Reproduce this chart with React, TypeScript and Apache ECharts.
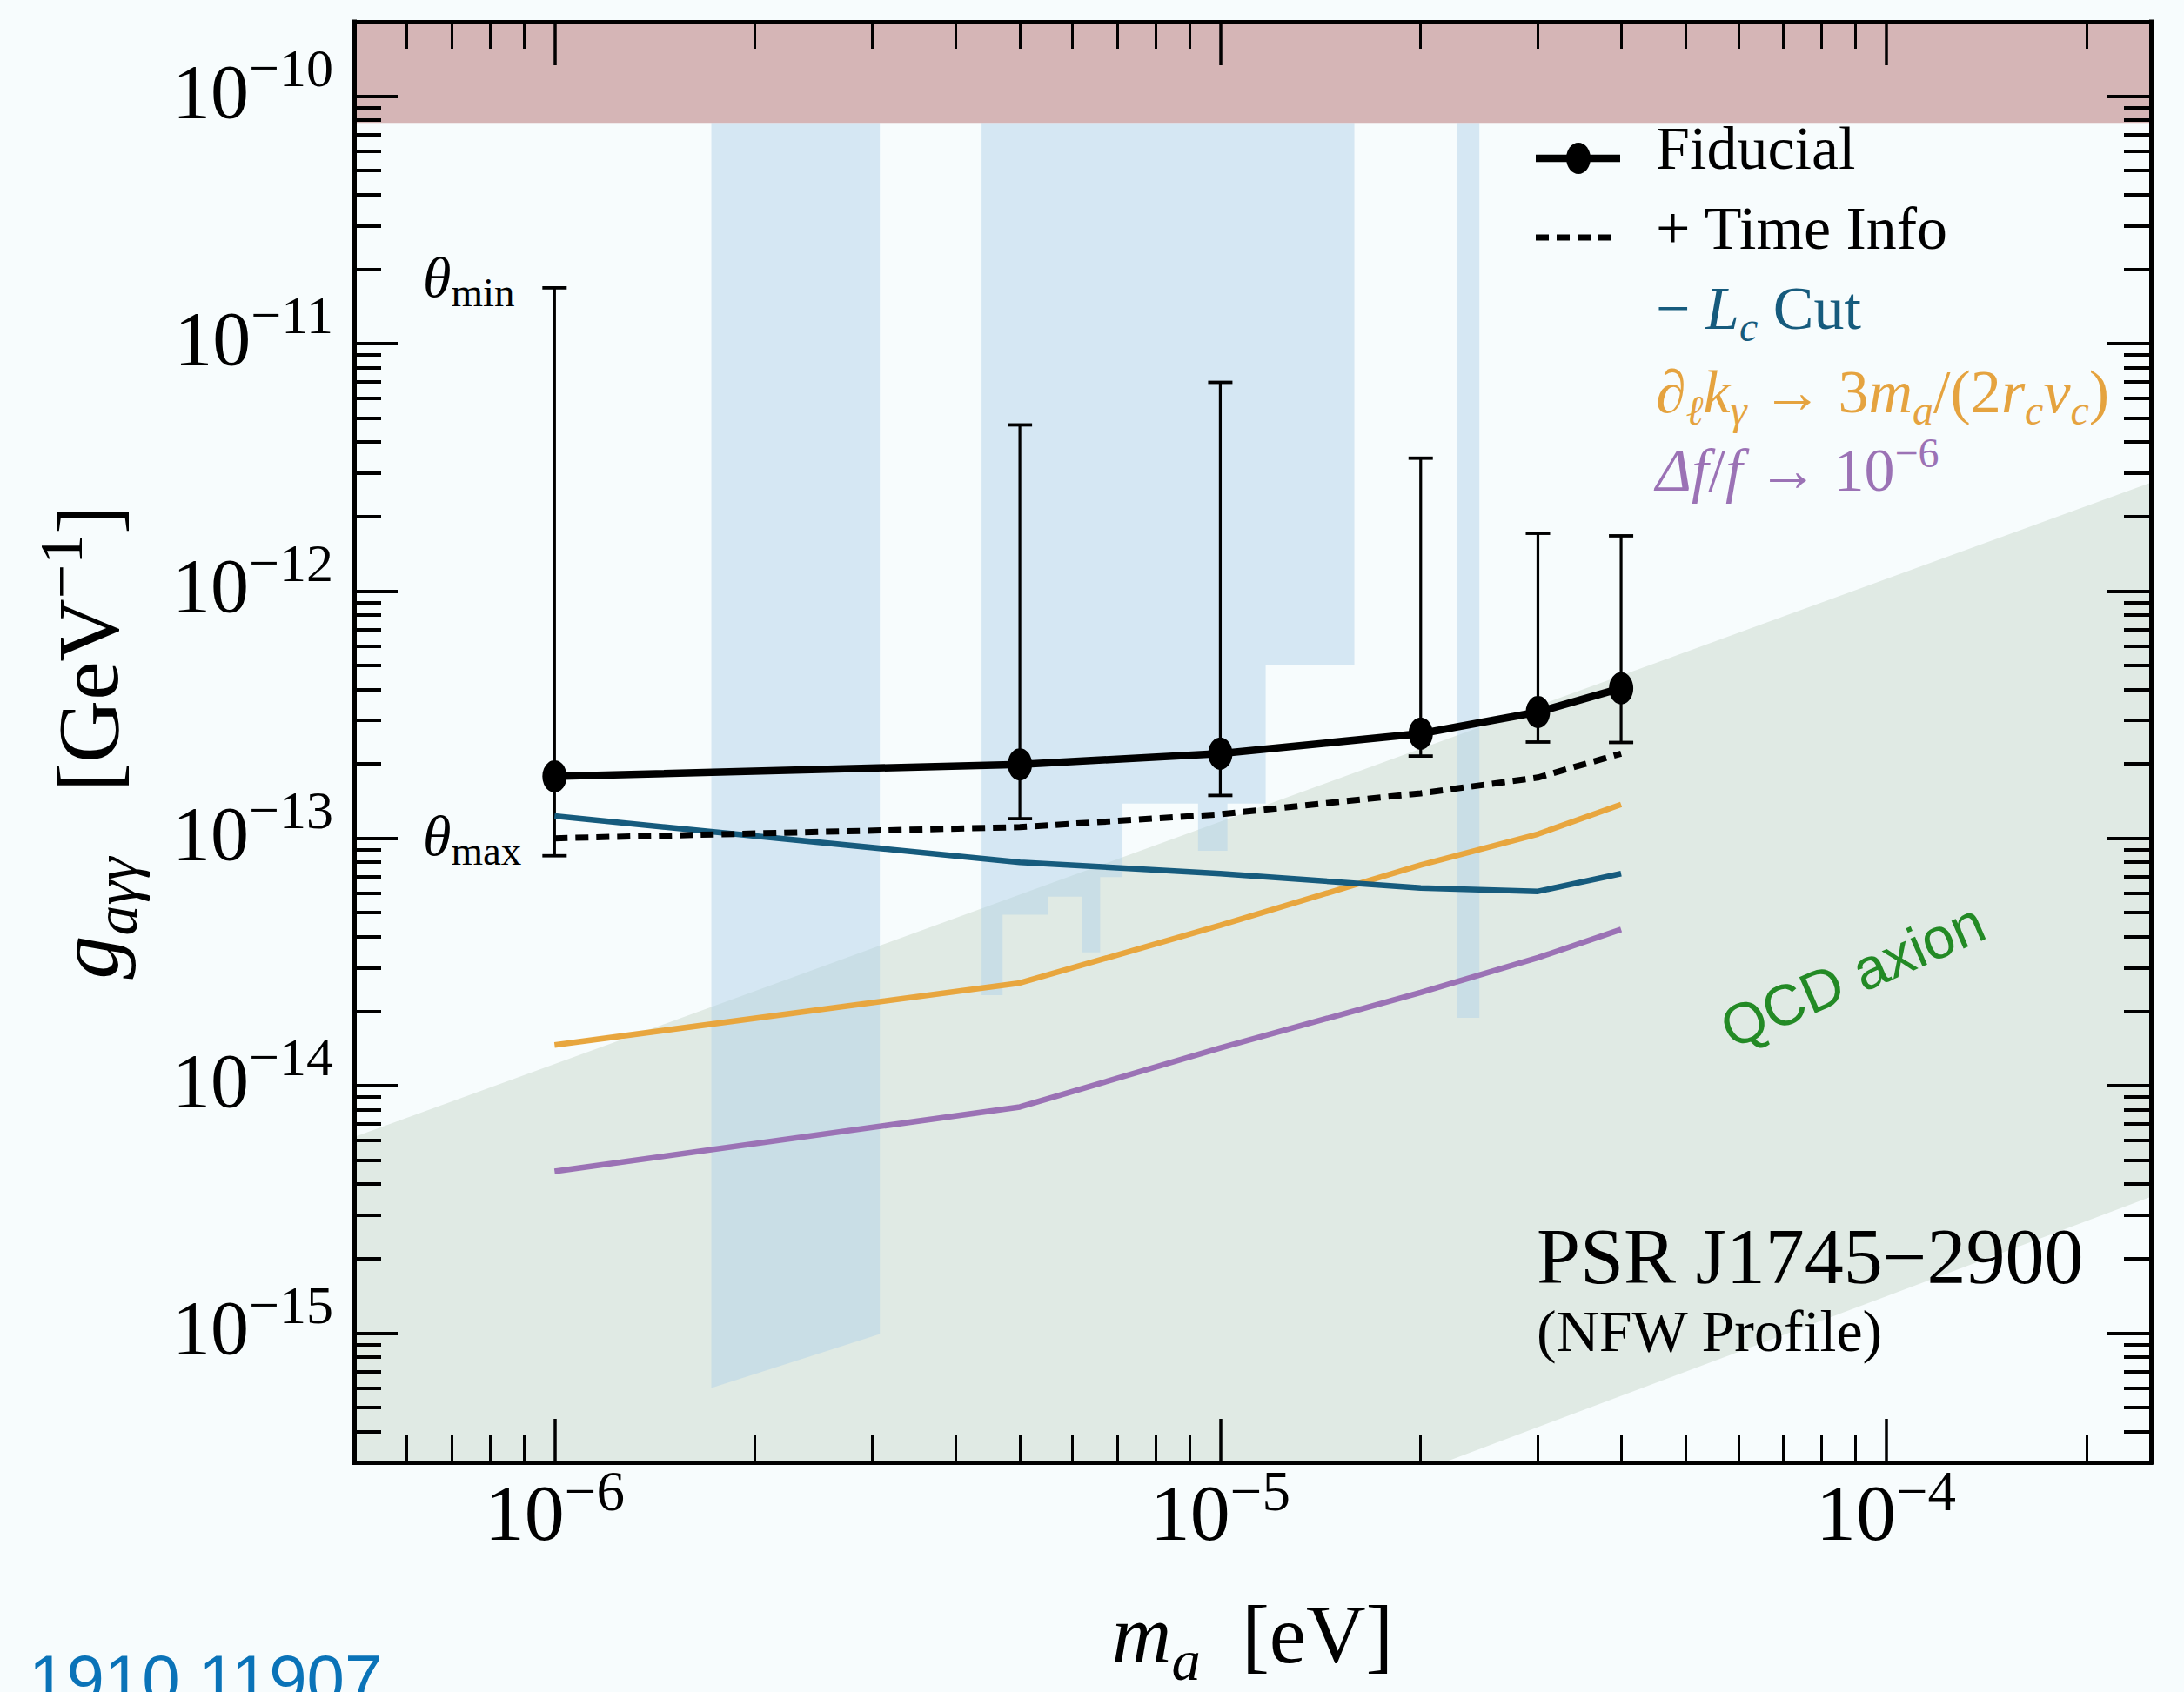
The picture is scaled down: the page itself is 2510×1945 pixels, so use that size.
import React, { useEffect, useRef } from 'react';
import * as echarts from 'echarts';

const SERIF = '"Liberation Serif", "Times New Roman", serif';
const SANS = '"Liberation Sans", Arial, sans-serif';

// ---------- axis ranges / ticks ----------
const X_MIN = 5e-7;
const X_MAX = 2.5e-4;
const Y_MIN = 3e-16;
const Y_MAX = 2e-10;
const xMajorTicks = [1e-6, 1e-5, 1e-4];
const yMajorTicks = [1e-15, 1e-14, 1e-13, 1e-12, 1e-11, 1e-10];

// ---------- data ----------
const massPoints = [1e-6, 5e-6, 1e-5, 2e-5, 3e-5, 4e-5];
const fiducialG = [1.78e-13, 1.99e-13, 2.2e-13, 2.65e-13, 3.24e-13, 4.04e-13];
const thetaMinG = [1.68e-11, 4.69e-12, 6.97e-12, 3.44e-12, 1.71e-12, 1.67e-12];
const thetaMaxG = [8.5e-14, 1.2e-13, 1.49e-13, 2.15e-13, 2.45e-13, 2.44e-13];
const timeInfoG = [1.0e-13, 1.11e-13, 1.25e-13, 1.52e-13, 1.76e-13, 2.2e-13];
const lcCutG = [1.23e-13, 8.0e-14, 7.2e-14, 6.3e-14, 6.1e-14, 7.2e-14];
const gradientG = [1.46e-14, 2.6e-14, 4.45e-14, 7.8e-14, 1.04e-13, 1.37e-13];
const freqResG = [4.5e-15, 8.2e-15, 1.42e-14, 2.38e-14, 3.29e-14, 4.28e-14];

// QCD axion band
const qcdBandM = [5e-7, 2.5e-4, 2.5e-4, 2.17e-5, 5e-7];
const qcdBandG = [6.2e-15, 2.74e-12, 3.55e-15, 3e-16, 3e-16];
// haloscope exclusions (light blue)
const haloAM = [1.72e-6, 3.08e-6, 3.08e-6, 1.72e-6];
const haloAG = [7.8e-11, 7.8e-11, 9.9e-16, 6.0e-16];
const haloBM = [4.38e-6, 1.59e-5, 1.59e-5, 1.17e-5, 1.17e-5, 1.025e-5, 1.025e-5, 9.26e-6, 9.26e-6, 7.13e-6,
  7.13e-6, 6.6e-6, 6.6e-6, 6.2e-6, 6.2e-6, 5.52e-6, 5.52e-6, 4.71e-6, 4.71e-6, 4.38e-6];
const haloBG = [7.8e-11, 7.8e-11, 5.03e-13, 5.03e-13, 1.38e-13, 1.38e-13, 8.9e-14, 8.9e-14, 1.38e-13, 1.38e-13,
  6.97e-14, 6.97e-14, 3.46e-14, 3.46e-14, 5.81e-14, 5.81e-14, 4.91e-14, 4.91e-14, 2.32e-14, 2.32e-14];
const haloCM = [2.27e-5, 2.45e-5, 2.45e-5, 2.27e-5];
const haloCG = [7.8e-11, 7.8e-11, 1.88e-14, 1.88e-14];
// top exclusion (pink)
const castM = [5e-7, 2.5e-4, 2.5e-4, 5e-7];
const castG = [7.8e-11, 7.8e-11, 2e-10, 2e-10];

function minorTicks(lo: number, hi: number, min: number, max: number) {
  const out: number[] = [];
  for (let e = lo; e <= hi; e++) {
    for (let m = 2; m <= 9; m++) {
      const v = m * Math.pow(10, e);
      if (v > min * 1.02 && v < max * 0.98) out.push(v);
    }
  }
  return out;
}
const xMinorTicks = minorTicks(-7, -4, X_MIN, X_MAX);
const yMinorTicks = minorTicks(-16, -11, Y_MIN, Y_MAX);

const expLabel = (v: number) => `{b|10}{s|−${Math.abs(Math.round(Math.log10(v)))}}`;

function polygonSeries(name: string, xs: number[], ys: number[], fill: string) {
  return {
    name,
    type: 'custom',
    coordinateSystem: 'cartesian2d',
    xAxisIndex: 0,
    yAxisIndex: 0,
    silent: true,
    clip: true,
    data: xs.map((x, i) => [x, ys[i]]),
    renderItem: (params: any, api: any) => {
      if (params.dataIndex !== 0) return null;
      const pts = xs.map((x, i) => api.coord([x, ys[i]]));
      return { type: 'polygon', shape: { points: pts }, style: { fill, stroke: 'none' } };
    },
  };
}

function lineSeries(name: string, ys: number[], color: string, width: number, dash?: number[]) {
  return {
    name,
    type: 'line',
    xAxisIndex: 0,
    yAxisIndex: 0,
    silent: true,
    symbol: 'none',
    data: massPoints.map((m, i) => [m, ys[i]]),
    lineStyle: { color, width, type: dash ? dash : 'solid', cap: 'butt' },
  };
}

const tickLine = (w: number) => ({ color: '#000', width: w });
const frameLine = { show: true, onZero: false, lineStyle: { color: '#000', width: 5, cap: 'square' } };

const commonX = {
  type: 'log', logBase: 10, min: X_MIN, max: X_MAX, z: 10, silent: true,
  splitLine: { show: false }, minorTick: { show: false }, minorSplitLine: { show: false },
};
const commonY = {
  type: 'log', logBase: 10, min: Y_MIN, max: Y_MAX, z: 10, silent: true,
  splitLine: { show: false }, minorTick: { show: false }, minorSplitLine: { show: false },
};

const titleRich = (fs: number) => ({
  n: { fontSize: fs, lineHeight: fs, fontFamily: SERIF, color: '#000', verticalAlign: 'top', padding: [20, 0, 0, 0] },
  i: { fontSize: fs, lineHeight: fs, fontFamily: SERIF, fontStyle: 'italic', color: '#000', verticalAlign: 'top', padding: [20, 0, 0, 0] },
  sub: { fontSize: fs * 0.7, lineHeight: fs * 0.7, fontFamily: SERIF, fontStyle: 'italic', color: '#000', verticalAlign: 'top', padding: [fs * 0.67, 0, 0, 0] },
  sup: { fontSize: fs * 0.7, lineHeight: fs * 0.7, fontFamily: SERIF, color: '#000', verticalAlign: 'top', padding: [4, 0, 0, 0] },
});

const legRich = (color: string) => ({
  n: { fontSize: 70, lineHeight: 70, fontFamily: SERIF, fill: color, verticalAlign: 'top', padding: [12, 0, 0, 0] },
  i: { fontSize: 70, lineHeight: 70, fontFamily: SERIF, fontStyle: 'italic', fill: color, verticalAlign: 'top', padding: [12, 0, 0, 0] },
  s: { fontSize: 48, lineHeight: 48, fontFamily: SERIF, fontStyle: 'italic', fill: color, verticalAlign: 'top', padding: [44, 0, 0, 0] },
  p: { fontSize: 48, lineHeight: 48, fontFamily: SERIF, fill: color, verticalAlign: 'top', padding: [3, 0, 0, 0] },
});

function legText(y: number, text: string, color: string) {
  return {
    type: 'text', x: 1903, y, z: 30, silent: true,
    style: { text, rich: legRich(color), fill: color, align: 'left', verticalAlign: 'top', textAlign: 'left', textVerticalAlign: 'top' },
  };
}

const thetaRich = {
  t: { fontSize: 66, lineHeight: 66, fontFamily: SERIF, fontStyle: 'italic', fill: '#000', verticalAlign: 'top' },
  s: { fontSize: 47, lineHeight: 47, fontFamily: SERIF, fill: '#000', verticalAlign: 'top', padding: [27, 0, 0, 0] },
};

export default function App() {
  const ref = useRef<HTMLDivElement>(null);
  useEffect(() => {
    if (!ref.current) return;
    const chart = echarts.init(ref.current, undefined, { renderer: 'svg' });
    const option: any = {
      animation: false,
      backgroundColor: '#f7fcfd',
      grid: { left: 407, right: 38, top: 25, bottom: 264, containLabel: false, outerBoundsMode: 'none' },
      xAxis: [
        {
          ...commonX, position: 'bottom', axisLine: frameLine,
          axisTick: { show: true, inside: true, length: 50, lineStyle: tickLine(3.5), customValues: xMajorTicks },
          axisLabel: {
            show: true, customValues: xMajorTicks, margin: 12, formatter: expLabel,
            rich: {
              b: { fontSize: 92, lineHeight: 92, fontFamily: SERIF, color: '#000', verticalAlign: 'bottom' },
              s: { fontSize: 65, lineHeight: 65, fontFamily: SERIF, color: '#000', verticalAlign: 'bottom', padding: [0, 0, 39, 0] },
            },
          },
          name: '{i|m}{sub|a}{n|  [eV]}', nameLocation: 'middle', nameGap: 130,
          nameTextStyle: { rich: titleRich(95) },
        },
        {
          ...commonX, position: 'bottom', axisLine: { show: false },
          axisTick: { show: true, inside: true, length: 31, lineStyle: tickLine(3), customValues: xMinorTicks },
          axisLabel: { show: false },
        },
        {
          ...commonX, position: 'top', axisLine: frameLine,
          axisTick: { show: true, inside: true, length: 50, lineStyle: tickLine(3.5), customValues: xMajorTicks },
          axisLabel: { show: false },
        },
        {
          ...commonX, position: 'top', axisLine: { show: false },
          axisTick: { show: true, inside: true, length: 31, lineStyle: tickLine(3), customValues: xMinorTicks },
          axisLabel: { show: false },
        },
      ],
      yAxis: [
        {
          ...commonY, position: 'left', axisLine: frameLine,
          axisTick: { show: true, inside: true, length: 50, lineStyle: tickLine(4), customValues: yMajorTicks },
          axisLabel: {
            show: true, customValues: yMajorTicks, margin: 24, formatter: expLabel, padding: [0, 0, 11, 0],
            rich: {
              b: { fontSize: 88, lineHeight: 88, fontFamily: SERIF, color: '#000', verticalAlign: 'bottom' },
              s: { fontSize: 62, lineHeight: 62, fontFamily: SERIF, color: '#000', verticalAlign: 'bottom', padding: [0, 0, 40, 0] },
            },
          },
          name: '{i|g}{sub|aγγ}{n|   [GeV}{sup|−1}{n|]}', nameLocation: 'middle', nameRotate: 90, nameGap: 276,
          nameTextStyle: { rich: titleRich(100) },
        },
        {
          ...commonY, position: 'left', axisLine: { show: false },
          axisTick: { show: true, inside: true, length: 31, lineStyle: tickLine(4), customValues: yMinorTicks },
          axisLabel: { show: false },
        },
        {
          ...commonY, position: 'right', axisLine: frameLine,
          axisTick: { show: true, inside: true, length: 50, lineStyle: tickLine(4), customValues: yMajorTicks },
          axisLabel: { show: false },
        },
        {
          ...commonY, position: 'right', axisLine: { show: false },
          axisTick: { show: true, inside: true, length: 31, lineStyle: tickLine(4), customValues: yMinorTicks },
          axisLabel: { show: false },
        },
      ],
      series: [
        polygonSeries('QCD axion', qcdBandM, qcdBandG, '#e0eae4'),
        polygonSeries('Haloscope A', haloAM, haloAG, 'rgba(176, 208, 232, 0.48)'),
        polygonSeries('Haloscope B', haloBM, haloBG, 'rgba(176, 208, 232, 0.48)'),
        polygonSeries('Haloscope C', haloCM, haloCG, 'rgba(176, 208, 232, 0.48)'),
        polygonSeries('Top exclusion', castM, castG, '#d5b5b6'),
        lineSeries('Δf/f → 10⁻⁶', freqResG, '#9b72b5', 6.5),
        lineSeries('∂k → 3m/(2rv)', gradientG, '#e8a63e', 6.5),
        lineSeries('− Lc Cut', lcCutG, '#165b7d', 6.5),
        lineSeries('+ Time Info', timeInfoG, '#000', 7, [15, 9]),
        {
          name: 'θ range',
          type: 'custom',
          coordinateSystem: 'cartesian2d',
          xAxisIndex: 0,
          yAxisIndex: 0,
          silent: true,
          data: massPoints.map((m, i) => [m, thetaMaxG[i], thetaMinG[i]]),
          encode: { x: 0, y: [1, 2] },
          renderItem: (params: any, api: any) => {
            const x = api.value(0);
            const lo = api.coord([x, api.value(1)]);
            const hi = api.coord([x, api.value(2)]);
            const w = 14;
            const st = { stroke: '#000', lineWidth: 3.2 };
            return {
              type: 'group',
              children: [
                { type: 'line', shape: { x1: lo[0], y1: lo[1], x2: hi[0], y2: hi[1] }, style: st },
                { type: 'line', shape: { x1: lo[0] - w, y1: lo[1], x2: lo[0] + w, y2: lo[1] }, style: { ...st, lineWidth: 3.8 } },
                { type: 'line', shape: { x1: hi[0] - w, y1: hi[1], x2: hi[0] + w, y2: hi[1] }, style: { ...st, lineWidth: 3.8 } },
              ],
            };
          },
        },
        {
          name: 'Fiducial',
          type: 'line',
          xAxisIndex: 0,
          yAxisIndex: 0,
          silent: true,
          symbol: 'circle',
          symbolSize: [28, 37],
          itemStyle: { color: '#000' },
          lineStyle: { color: '#000', width: 8.5 },
          data: massPoints.map((m, i) => [m, fiducialG[i]]),
        },
      ],
      graphic: {
        elements: [
          // theta labels
          {
            type: 'text', x: 486, y: 318, z: 30, silent: true,
            style: { text: '{t|θ}{s|min}', rich: thetaRich, fill: '#000', align: 'left', verticalAlign: 'middle', textAlign: 'left', textVerticalAlign: 'middle' },
          },
          {
            type: 'text', x: 486, y: 960, z: 30, silent: true,
            style: { text: '{t|θ}{s|max}', rich: thetaRich, fill: '#000', align: 'left', verticalAlign: 'middle', textAlign: 'left', textVerticalAlign: 'middle' },
          },
          // legend
          { type: 'line', z: 30, silent: true, shape: { x1: 1765, y1: 182, x2: 1862, y2: 182 }, style: { stroke: '#000', lineWidth: 8.5 } },
          { type: 'ellipse', z: 31, silent: true, shape: { cx: 1814, cy: 182, rx: 14, ry: 18 }, style: { fill: '#000' } },
          { type: 'line', z: 30, silent: true, shape: { x1: 1765, y1: 273, x2: 1856, y2: 273 }, style: { stroke: '#000', lineWidth: 7, lineDash: [15, 9] } },
          legText(123, '{n|Fiducial}', '#000'),
          legText(215, '{n|+ Time Info}', '#000'),
          legText(307, '{n|− }{i|L}{s|c}{n| Cut}', '#165b7d'),
          legText(403, '{i|∂}{s|ℓ}{i|k}{s|γ}{n| → 3}{i|m}{s|a}{n|/(2}{i|r}{s|c}{i|v}{s|c}{n|)}', '#e5a33f'),
          legText(493, '{i|Δf}{n|/}{i|f}{n| → 10}{p|−6}', '#9b72b5'),
          // annotations
          {
            type: 'text', x: 2129, y: 1121, rotation: 0.41, z: 30, silent: true,
            style: { text: 'QCD axion', fontSize: 66, fontFamily: SANS, fill: '#238a25', align: 'center', verticalAlign: 'middle', textAlign: 'center', textVerticalAlign: 'middle' },
          },
          {
            type: 'text', x: 1766, y: 1444, z: 30, silent: true,
            style: { text: 'PSR J1745−2900', fontSize: 90, fontFamily: SERIF, fill: '#000', align: 'left', verticalAlign: 'middle', textAlign: 'left', textVerticalAlign: 'middle' },
          },
          {
            type: 'text', x: 1766, y: 1530, z: 30, silent: true,
            style: { text: '(NFW Profile)', fontSize: 68, fontFamily: SERIF, fill: '#000', align: 'left', verticalAlign: 'middle', textAlign: 'left', textVerticalAlign: 'middle' },
          },
          {
            type: 'text', x: 33, y: 1930, z: 30, silent: true,
            style: { text: '1910.11907', fontSize: 78, fontFamily: SANS, fill: '#0a73b8', align: 'left', verticalAlign: 'middle', textAlign: 'left', textVerticalAlign: 'middle' },
          },
        ],
      },
    };
    chart.setOption(option);
    return () => chart.dispose();
  }, []);
  return <div ref={ref} style={{ position: 'absolute', left: 0, top: 0, width: 2510, height: 1945 }} />;
}
